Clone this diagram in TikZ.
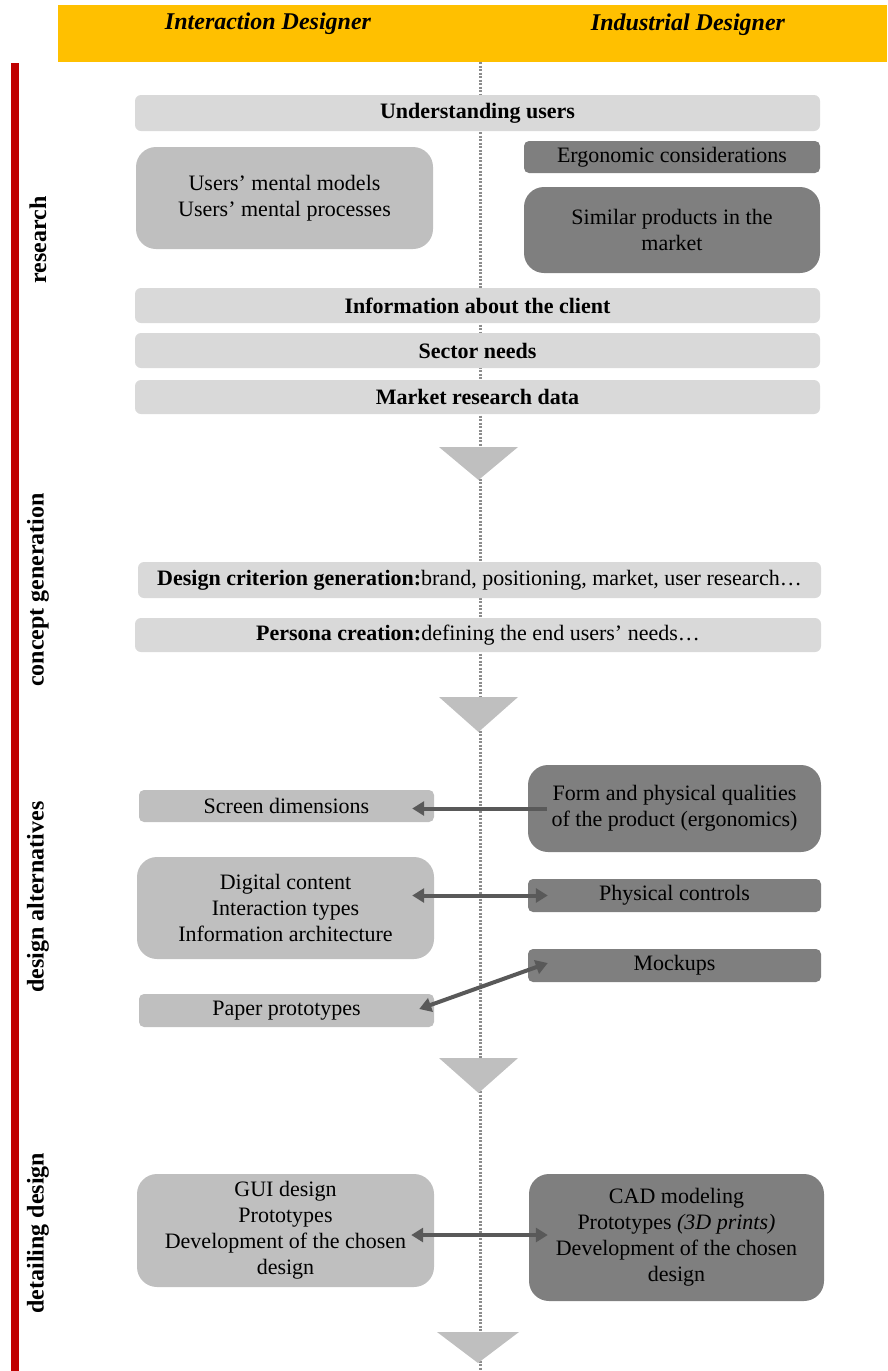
\documentclass[tikz,border=0pt]{standalone}
\usepackage{fontspec}
\setmainfont{Liberation Serif}
\usetikzlibrary{arrows.meta,calc}
\definecolor{hdr}{HTML}{FFC000}
\definecolor{redbar}{HTML}{C00000}
\definecolor{lite}{HTML}{D9D9D9}
\definecolor{mid}{HTML}{BFBFBF}
\definecolor{dark}{HTML}{7F7F7F}
\definecolor{arr}{HTML}{595959}
\definecolor{dotc}{HTML}{8C8C8C}
\begin{document}
\begin{tikzpicture}[x=1pt,y=-1pt,
  txt/.style={font=\fontsize{22}{26}\selectfont},
  base/.style={inner sep=0pt, align=center, text=black, txt},
  wide/.style={base, fill=lite, rounded corners=6pt},
  midsm/.style={base, fill=mid, rounded corners=5pt},
  midbig/.style={base, fill=mid, rounded corners=20pt},
  darksm/.style={base, fill=dark, rounded corners=5pt},
  darkbig/.style={base, fill=dark, rounded corners=20pt},
  phase/.style={rotate=90, inner sep=0pt, font=\fontsize{24}{28}\selectfont\bfseries},
  title/.style={inner sep=0pt, font=\fontsize{24}{28}\selectfont\bfseries\itshape},
  tri/.style={fill=mid},
  conn/.style={draw=arr, line width=4pt, -{Triangle[length=12pt,width=14pt]}},
  conn2/.style={draw=arr, line width=4pt, {Triangle[length=12pt,width=14pt]}-{Triangle[length=12pt,width=14pt]}}
]
\useasboundingbox (0,0) rectangle (887,1371);
% header
\fill[hdr] (58,5) rectangle (887,62);
\node[title] (t1) at (268,24) {Interaction Designer};
\node[title] (t2) at (688,25) {Industrial Designer};
% red bar
\fill[redbar] (11,63) rectangle (19,1371);
% dotted centre line
\coordinate (ltop) at (480,62);
\coordinate (lbot) at (480,1371);
\draw[dotc, line width=3pt, dash pattern=on 2.2pt off 1.3pt] (ltop) -- (lbot);
% phase labels
\node[phase] (pr) at (38,240) {research};
\node[phase] (pc) at (38,590) {concept generation};
\node[phase] (pd) at (38,897) {design alternatives};
\node[phase] (pt) at (38,1233) {detailing design};
% research
\node[wide, minimum width=685pt, minimum height=36pt] (under) at (477.5,113) {\bfseries Understanding users};
\node[midbig, minimum width=297pt, minimum height=102pt] (mental) at (284.5,198) {Users’ mental models\\Users’ mental processes};
\node[darksm, minimum width=296pt, minimum height=32pt] (ergo) at (672,157) {Ergonomic considerations};
\node[darkbig, minimum width=296pt, minimum height=86pt] (similar) at (672,230) {Similar products in the\\market};
\node[wide, minimum width=685pt, minimum height=35pt] (client) at (477.5,305.5) {\bfseries Information about the client};
\node[wide, minimum width=685pt, minimum height=35pt] (sector) at (477.5,350.5) {\bfseries Sector needs};
\node[wide, minimum width=685pt, minimum height=34pt] (market) at (477.5,397) {\bfseries Market research data};
\fill[tri] (439,447) -- (518,447) -- (478.5,480) -- cycle;
% concept generation
\node[wide, minimum width=683pt, minimum height=36pt] (crit) at (479.5,580) {\textbf{Design criterion generation:}brand, positioning, market, user research…};
\node[wide, minimum width=686pt, minimum height=34pt] (persona) at (478,635) {\textbf{Persona creation:}defining the end users’ needs…};
\fill[tri] (439,697) -- (518,697) -- (478.5,732) -- cycle;
% design alternatives
\node[midsm, minimum width=295pt, minimum height=32pt] (screen) at (286.5,806) {Screen dimensions};
\node[darkbig, minimum width=293pt, minimum height=87pt] (form) at (674.5,808.5) {Form and physical qualities\\of the product (ergonomics)};
\node[midbig, minimum width=297pt, minimum height=102pt] (digital) at (285.5,908) {Digital content\\Interaction types\\Information architecture};
\node[darksm, minimum width=293pt, minimum height=33pt] (physical) at (674.5,895.5) {Physical controls};
\node[darksm, minimum width=293pt, minimum height=33pt] (mockups) at (674.5,965.5) {Mockups};
\node[midsm, minimum width=295pt, minimum height=33pt] (paper) at (286.5,1010.5) {Paper prototypes};
\fill[tri] (439,1058) -- (518,1058) -- (478.5,1093) -- cycle;
% detailing design
\node[midbig, minimum width=297pt, minimum height=113pt] (gui) at (285.5,1230.5) {GUI design\\Prototypes\\Development of the chosen\\design};
\node[darkbig, minimum width=295pt, minimum height=127pt] (cad) at (676.5,1237.5) {CAD modeling\\Prototypes \textit{(3D prints)}\\Development of the chosen\\design};
\fill[tri] (437,1332) -- (519,1332) -- (478,1363) -- cycle;
% connectors
\draw[conn] ([xshift=19pt]form.west) -- ([xshift=-22pt]form.west -| screen.east);
\draw[conn2] ([xshift=-22pt]digital.east |- physical.west) -- ([xshift=20pt]physical.west);
\draw[conn2] ([xshift=-15pt,yshift=1.5pt]paper.east) -- ([xshift=20pt,yshift=2.5pt]mockups.west);
\draw[conn2] ([xshift=-23pt,yshift=-4.5pt]gui.east) -- ([xshift=19pt,yshift=2.5pt]cad.west);
\end{tikzpicture}
\end{document}
